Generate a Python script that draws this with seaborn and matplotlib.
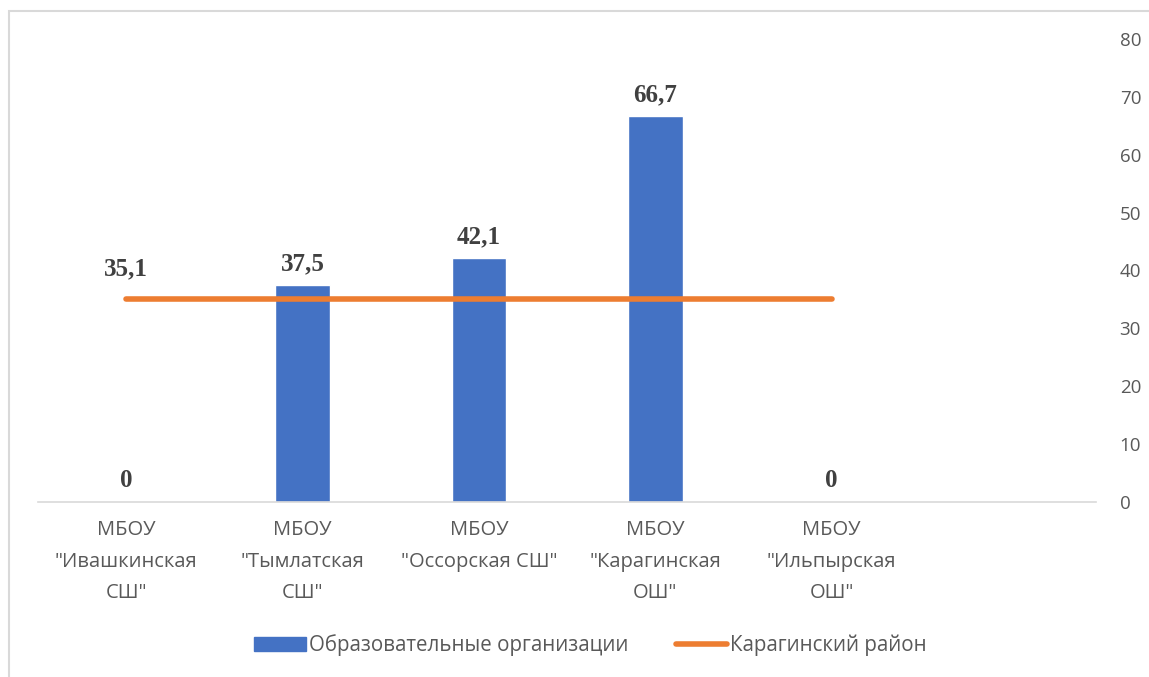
import numpy as np
import pandas as pd
import matplotlib
matplotlib.use("Agg")
import matplotlib.pyplot as plt
import seaborn as sns
from matplotlib.patches import Patch
from matplotlib.lines import Line2D

# данные
schools = ['МБОУ\n"Ивашкинская\nСШ"', 'МБОУ\n"Тымлатская\nСШ"', 'МБОУ\n"Оссорская СШ"',
           'МБОУ\n"Карагинская\nОШ"', 'МБОУ\n"Ильпырская\nОШ"']
org_values = [0, 37.5, 42.1, 66.7, 0]
district_values = [35.1, 35.1, 35.1, 35.1, 35.1]
bar_labels = ["0", "37,5", "42,1", "66,7", "0"]
district_label = "35,1"
y_ticks = [0, 10, 20, 30, 40, 50, 60, 70, 80]

sns.set_style("white")
plt.rcParams['font.family'] = ['Open Sans', 'DejaVu Sans']

df = pd.DataFrame({"school": schools, "value": org_values})

fig = plt.figure(figsize=(11.49, 6.77), dpi=100)
ax = fig.add_axes([0.0331, 0.2585, 0.9208, 0.6839])

sns.barplot(data=df, x="school", y="value", color="#4472C4", width=0.31,
            saturation=1, ax=ax, zorder=2)
sns.lineplot(x=np.arange(len(schools)), y=district_values, color="#ED7D31",
             linewidth=4, solid_capstyle="round", ax=ax, zorder=3)

# подписи значений
for i, (v, lab) in enumerate(zip(org_values, bar_labels)):
    ax.annotate(lab, (i, v), xytext=(0, 7), textcoords="offset points",
                ha="center", va="bottom", fontsize=18, fontweight="bold",
                family="Liberation Serif", color="#404040")
ax.annotate(district_label, (0, district_values[0]), xytext=(0, 13.5),
            textcoords="offset points", ha="center", va="bottom", fontsize=18,
            fontweight="bold", family="Liberation Serif", color="#404040")

# оси
ax.set_xlim(-0.5, 5.5)
ax.set_ylim(0, 80)
ax.set_xlabel("")
ax.set_ylabel("")
ax.set_xticks(range(len(schools)))
ax.set_xticklabels(schools, fontsize=14.5, color="#595959", linespacing=1.78)
ax.set_xticks(np.arange(-0.5, 6.0, 1.0), minor=True)
ax.tick_params(axis="x", which="major", length=0, pad=13)
ax.tick_params(axis="x", which="minor", length=7, color="#D9D9D9", width=1.2)
ax.yaxis.tick_right()
ax.set_yticks(y_ticks)
ax.tick_params(axis="y", length=0, pad=17, labelsize=13.5, labelcolor="#595959")
for s in ["left", "right", "top"]:
    ax.spines[s].set_visible(False)
ax.spines["bottom"].set_color("#D9D9D9")
ax.spines["bottom"].set_linewidth(1.2)

# легенда
handles = [Patch(color="#4472C4", label="Образовательные организации"),
           Line2D([0], [0], color="#ED7D31", linewidth=4, solid_capstyle="round",
                  label="Карагинский район")]
fig.legend(handles=handles, loc="center", bbox_to_anchor=(0.514, 0.047), ncol=2,
           frameon=False, fontsize=14.8, labelcolor="#595959", handlelength=2.5,
           handleheight=0.7, handletextpad=0.15, columnspacing=2.3)

# рамка
fig.add_artist(plt.Rectangle((9 / 1149, -0.01), 1.1, 1 - 11 / 677 + 0.01,
                             transform=fig.transFigure, fill=False,
                             edgecolor="#D9D9D9", linewidth=1.5))

fig.savefig("out.png", dpi=100)
